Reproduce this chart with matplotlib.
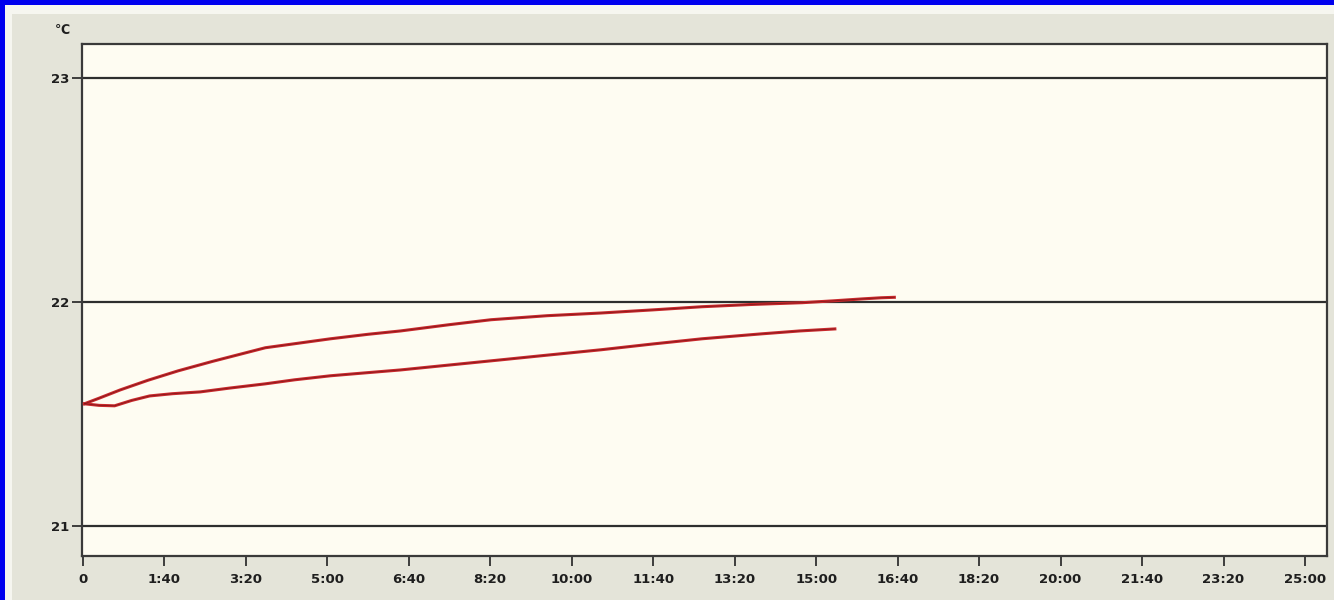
import matplotlib
matplotlib.use("Agg")
import matplotlib.pyplot as plt
from matplotlib.patches import Rectangle
from matplotlib.ticker import FuncFormatter

# temperature readings (seconds, deg C)
upper_t = [2, 20, 46, 80, 117, 160, 224, 270, 304, 350, 390, 450, 501, 570, 636, 700, 760, 820, 883, 920, 957, 980, 996]
upper_T = [21.545, 21.570, 21.607, 21.650, 21.692, 21.735, 21.795, 21.818, 21.835, 21.855, 21.870, 21.898, 21.920, 21.938,
           21.950, 21.964, 21.978, 21.988, 21.996, 22.004, 22.013, 22.018, 22.020]

lower_t = [2, 20, 39, 60, 82, 110, 144, 180, 224, 260, 304, 350, 390, 450, 513, 570, 636, 700, 760, 833, 880, 923]
lower_T = [21.545, 21.538, 21.536, 21.560, 21.580, 21.590, 21.598, 21.615, 21.634, 21.652, 21.670, 21.684, 21.696,
           21.718, 21.741, 21.762, 21.786, 21.812, 21.835, 21.857, 21.870, 21.879]

y_ticks = [21, 22, 23]
x_ticks = list(range(0, 1501, 100))


def mmss(v, pos):
    v = int(round(v))
    if v == 0:
        return "0"
    return "%d:%02d" % (v // 60, v % 60)


fig = plt.figure(figsize=(13.34, 6), dpi=100, facecolor="#0000ee")
W, H = 1334, 600
# slide frame: white strip, then grey panel
fig.patches.append(Rectangle((5 / W, 0), 1, (H - 5) / H, transform=fig.transFigure,
                             facecolor="#f6f6f0", edgecolor="none", zorder=-10))
fig.patches.append(Rectangle((12 / W, 0), 1, (H - 14) / H, transform=fig.transFigure,
                             facecolor="#e4e4d9", edgecolor="none", zorder=-9))

ax = fig.add_axes([82 / W, 1 - 556 / H, (1327 - 82) / W, (556 - 44) / H])
ax.set_zorder(1)
ax.set_facecolor("#fefcf2")

for yv in y_ticks:
    ax.axhline(yv, color="#2e2e2e", lw=1.6, zorder=1)

ax.plot(upper_t, upper_T, color="#c8282c", lw=2.2, zorder=3)
ax.plot(upper_t, upper_T, color="#5a1010", lw=0.6, alpha=0.6, zorder=4)
ax.plot(lower_t, lower_T, color="#c8282c", lw=2.2, zorder=3)
ax.plot(lower_t, lower_T, color="#5a1010", lw=0.6, alpha=0.6, zorder=4)

ax.set_xlim(-1, 1527)
ax.set_ylim(20.866, 23.15)
ax.set_xticks(x_ticks)
ax.set_yticks(y_ticks)
ax.xaxis.set_major_formatter(FuncFormatter(mmss))

fam = ["Liberation Sans Narrow", "DejaVu Sans"]
ax.tick_params(axis="both", colors="#303030", width=1.3, length=7, labelsize=9.5)
ax.tick_params(axis="x", pad=5)
ax.tick_params(axis="y", pad=2)
for lab in ax.get_xticklabels() + ax.get_yticklabels():
    lab.set_family(fam)
    lab.set_fontweight("bold")
    lab.set_color("#1e1e1e")

for sp in ax.spines.values():
    sp.set_color("#3a3a3a")
    sp.set_linewidth(1.6)

fig.text(62 / W, 1 - 31 / H, "℃", fontsize=9, fontweight="bold", color="#1e1e1e",
         ha="center", va="center", family=["DejaVu Sans"])

fig.savefig("out.png", dpi=100, facecolor=fig.get_facecolor())
